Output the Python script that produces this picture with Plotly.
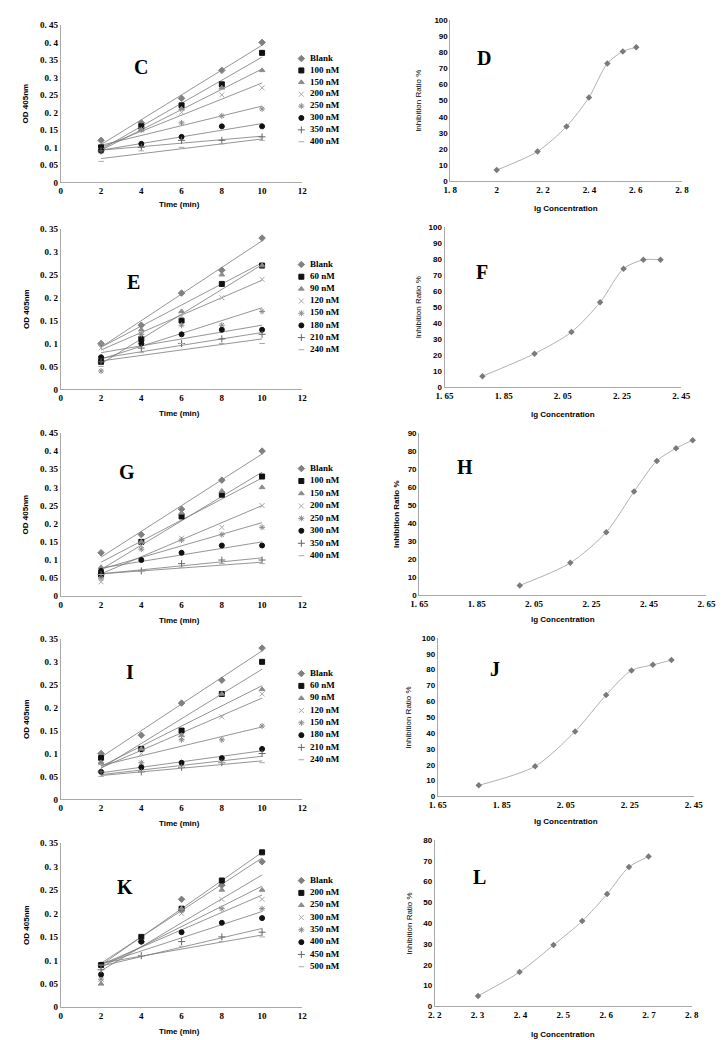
import numpy as np
import plotly.graph_objects as go

W, H = 726, 1040

# ---------------- data ----------------
TIME = [2, 4, 6, 8, 10]
TIME_TICKS = [0, 2, 4, 6, 8, 10, 12]

C_LABELS = ["Blank", "100 nM", "150 nM", "200 nM", "250 nM", "300 nM", "350 nM", "400 nM"]
C_OD = [
    [0.12, 0.17, 0.24, 0.32, 0.40],
    [0.10, 0.16, 0.22, 0.28, 0.37],
    [0.09, 0.15, 0.21, 0.27, 0.32],
    [0.09, 0.15, 0.20, 0.25, 0.27],
    [0.09, 0.15, 0.17, 0.19, 0.21],
    [0.09, 0.11, 0.13, 0.16, 0.16],
    [0.09, 0.10, 0.12, 0.12, 0.13],
    [0.06, 0.09, 0.10, 0.11, 0.12],
]

E_LABELS = ["Blank", "60 nM", "90 nM", "120 nM", "150 nM", "180 nM", "210 nM", "240 nM"]
E_OD = [
    [0.10, 0.14, 0.21, 0.26, 0.33],
    [0.06, 0.11, 0.15, 0.23, 0.27],
    [0.10, 0.13, 0.17, 0.25, 0.27],
    [0.09, 0.12, 0.16, 0.20, 0.24],
    [0.04, 0.12, 0.14, 0.14, 0.17],
    [0.07, 0.10, 0.12, 0.13, 0.13],
    [0.06, 0.09, 0.10, 0.11, 0.12],
    [0.05, 0.08, 0.10, 0.10, 0.10],
]

G_LABELS = ["Blank", "100 nM", "150 nM", "200 nM", "250 nM", "300 nM", "350 nM", "400 nM"]
G_OD = [
    [0.12, 0.17, 0.24, 0.32, 0.40],
    [0.06, 0.15, 0.22, 0.28, 0.33],
    [0.08, 0.15, 0.23, 0.29, 0.30],
    [0.04, 0.14, 0.16, 0.19, 0.25],
    [0.05, 0.13, 0.155, 0.17, 0.19],
    [0.07, 0.10, 0.12, 0.14, 0.14],
    [0.06, 0.07, 0.09, 0.10, 0.10],
    [0.06, 0.07, 0.08, 0.09, 0.09],
]

I_LABELS = ["Blank", "60 nM", "90 nM", "120 nM", "150 nM", "180 nM", "210 nM", "240 nM"]
I_OD = [
    [0.10, 0.14, 0.21, 0.26, 0.33],
    [0.09, 0.11, 0.15, 0.23, 0.30],
    [0.08, 0.11, 0.14, 0.23, 0.24],
    [0.08, 0.10, 0.135, 0.18, 0.23],
    [0.08, 0.08, 0.13, 0.13, 0.16],
    [0.06, 0.07, 0.08, 0.09, 0.11],
    [0.06, 0.06, 0.07, 0.08, 0.10],
    [0.05, 0.06, 0.07, 0.08, 0.08],
]

K_LABELS = ["Blank", "200 nM", "250 nM", "300 nM", "350 nM", "400 nM", "450 nM", "500 nM"]
K_OD = [
    [0.09, 0.14, 0.23, 0.26, 0.31],
    [0.09, 0.15, 0.21, 0.27, 0.33],
    [0.05, 0.14, 0.21, 0.25, 0.25],
    [0.06, 0.14, 0.20, 0.23, 0.23],
    [0.06, 0.14, 0.205, 0.21, 0.21],
    [0.07, 0.14, 0.16, 0.18, 0.19],
    [0.08, 0.11, 0.14, 0.15, 0.16],
    [0.09, 0.11, 0.13, 0.14, 0.15],
]

OD_TICKS_45 = [0, 0.05, 0.1, 0.15, 0.2, 0.25, 0.3, 0.35, 0.4, 0.45]
OD_TEXT_45 = ["0", "0. 05", "0. 1", "0. 15", "0. 2", "0. 25", "0. 3", "0. 35", "0. 4", "0. 45"]
OD_TICKS_35 = OD_TICKS_45[:8]
OD_TEXT_35 = OD_TEXT_45[:8]

D_CONC = [100, 150, 200, 250, 300, 350, 400]
D_INH = [7, 18.5, 34, 52, 73, 80.5, 83]
F_CONC = [60, 90, 120, 150, 180, 210, 240]
F_INH = [7, 21, 34.5, 53, 74, 79.5, 79.5]
H_CONC = [100, 150, 200, 250, 300, 350, 400]
H_INH = [5.5, 18, 35, 57.5, 74.5, 81.5, 86]
J_CONC = [60, 90, 120, 150, 180, 210, 240]
J_INH = [7, 19, 41, 64, 79.5, 83, 86]
L_CONC = [200, 250, 300, 350, 400, 450, 500]
L_INH = [5, 16.5, 29.5, 41, 54, 67, 72]

LG_TICKS_D = [1.8, 2.0, 2.2, 2.4, 2.6, 2.8]
LG_TEXT_D = ["1. 8", "2", "2. 2", "2. 4", "2. 6", "2. 8"]
LG_TICKS_F = [1.65, 1.85, 2.05, 2.25, 2.45]
LG_TEXT_F = ["1. 65", "1. 85", "2. 05", "2. 25", "2. 45"]
LG_TICKS_H = [1.65, 1.85, 2.05, 2.25, 2.45, 2.65]
LG_TEXT_H = ["1. 65", "1. 85", "2. 05", "2. 25", "2. 45", "2. 65"]
LG_TICKS_L = [2.2, 2.3, 2.4, 2.5, 2.6, 2.7, 2.8]
LG_TEXT_L = ["2. 2", "2. 3", "2. 4", "2. 5", "2. 6", "2. 7", "2. 8"]

# ---------------- styles ----------------
SYMBOLS = ["diamond", "square", "triangle-up", "x-thin-open", "asterisk-open",
           "circle", "cross-thin-open", "line-ew-open"]
COLORS = ["#808080", "#111111", "#8c8c8c", "#a8a8a8", "#8a8a8a", "#111111", "#666666", "#aaaaaa"]
SIZES = [5, 5, 5, 5, 5, 5, 5, 4]

SERIF = "Liberation Serif"
SANS = "Liberation Sans"
AXC = "#a8a8a8"

fig = go.Figure()
layout = dict(width=W, height=H, margin=dict(l=0, r=0, t=0, b=0),
              paper_bgcolor="white", plot_bgcolor="white", showlegend=False)
annotations = []


def px(p):
    return p / W


def py(p):
    return 1 - p / H


def ann(text, x, y, size, family, bold=False, angle=0, color="#000"):
    annotations.append(dict(text=text, x=px(x), y=py(y), xref="paper", yref="paper",
                            showarrow=False, textangle=angle,
                            font=dict(size=size, family=family, color=color,
                                      weight="bold" if bold else "normal"),
                            xanchor="center", yanchor="middle"))


LEFT = [
    dict(labels=C_LABELS, od=C_OD, top=12, bot=171, ymax=0.45, letter="C", lx=127, ly=55,
         leg=(46, 130), xt=193),
    dict(labels=E_LABELS, od=E_OD, top=218, bot=380, ymax=0.35, letter="E", lx=120, ly=272,
         leg=(254, 340), xt=404),
    dict(labels=G_LABELS, od=G_OD, top=424, bot=589, ymax=0.45, letter="G", lx=113, ly=463,
         leg=(460, 548), xt=613),
    dict(labels=I_LABELS, od=I_OD, top=632, bot=794, ymax=0.35, letter="I", lx=116, ly=665,
         leg=(667, 754), xt=818),
    dict(labels=K_LABELS, od=K_OD, top=838, bot=1004, ymax=0.35, letter="K", lx=111, ly=882,
         leg=(876, 963), xt=1028),
]

RIGHT = [
    dict(conc=D_CONC, inh=D_INH, x0=445, x1=683, xr=(1.8, 2.8), tv=LG_TICKS_D, tt=LG_TEXT_D,
         top=7, bot=170, ymax=100, letter="D", lx=480, ly=45, yt=412, xt=197),
    dict(conc=F_CONC, inh=F_INH, x0=439, x1=682, xr=(1.65, 2.45), tv=LG_TICKS_F, tt=LG_TEXT_F,
         top=216, bot=378, ymax=100, letter="F", lx=477, ly=262, yt=412, xt=405),
    dict(conc=H_CONC, inh=H_INH, x0=413, x1=708, xr=(1.65, 2.65), tv=LG_TICKS_H, tt=LG_TEXT_H,
         top=424, bot=588, ymax=90, letter="H", lx=460, ly=458, yt=389, xt=612),
    dict(conc=J_CONC, inh=J_INH, x0=432, x1=695, xr=(1.65, 2.45), tv=LG_TICKS_F, tt=LG_TEXT_F,
         top=631, bot=791, ymax=100, letter="J", lx=491, ly=662, yt=402, xt=816),
    dict(conc=L_CONC, inh=L_INH, x0=429, x1=693, xr=(2.2, 2.8), tv=LG_TICKS_L, tt=LG_TEXT_L,
         top=835, bot=1003, ymax=80, letter="L", lx=475, ly=872, yt=403, xt=1031),
]

tickfont_serif = dict(size=9, family=SERIF, color="#000", weight="bold")
tickfont_sans = dict(size=8, family=SANS, color="#000", weight="bold")

for k, p in enumerate(LEFT):
    n = 2 * k + 1
    xa, ya = f"x{n}", f"y{n}"
    layout[f"xaxis{n}"] = dict(domain=[px(45), px(293)], range=[0, 12], anchor=ya,
                               tickvals=TIME_TICKS, ticks="", showgrid=False, zeroline=False,
                               showline=True, linecolor=AXC, linewidth=1, tickfont=tickfont_serif,
                               fixedrange=True)
    tv = OD_TICKS_45 if p["ymax"] > 0.4 else OD_TICKS_35
    tt = OD_TEXT_45 if p["ymax"] > 0.4 else OD_TEXT_35
    layout[f"yaxis{n}"] = dict(domain=[py(p["bot"]), py(p["top"])], range=[0, p["ymax"]],
                               anchor=xa, tickvals=tv, ticktext=tt, ticks="", showgrid=False,
                               zeroline=False, showline=True, linecolor=AXC, linewidth=1,
                               tickfont=tickfont_serif, fixedrange=True)
    # linear trendlines (least-squares fit of each series)
    for i, vals in enumerate(p["od"]):
        a, b = np.polyfit(TIME, vals, 1)
        xs = [TIME[0], TIME[-1]]
        fig.add_trace(go.Scatter(x=xs, y=[a * xs[0] + b, a * xs[1] + b], mode="lines",
                                 line=dict(color="#7a7a7a", width=0.8), xaxis=xa, yaxis=ya,
                                 hoverinfo="skip"))
    for i, vals in enumerate(p["od"]):
        fig.add_trace(go.Scatter(x=TIME, y=vals, mode="markers", name=p["labels"][i],
                                 marker=dict(symbol=SYMBOLS[i], color=COLORS[i], size=SIZES[i],
                                             line=dict(color=COLORS[i], width=1)),
                                 xaxis=xa, yaxis=ya))
    # custom legend on a hidden axis
    m = 11 + k
    lxa, lya = f"x{m}", f"y{m}"
    layout[f"xaxis{m}"] = dict(domain=[px(292), px(352)], range=[0, 1], visible=False,
                               anchor=lya, fixedrange=True)
    layout[f"yaxis{m}"] = dict(domain=[py(p["leg"][1]), py(p["leg"][0])], range=[0, 7],
                               visible=False, anchor=lxa, fixedrange=True)
    nlab = len(p["labels"])
    for i in range(nlab):
        fig.add_trace(go.Scatter(x=[0], y=[nlab - 1 - i], mode="markers",
                                 marker=dict(symbol=SYMBOLS[i], color=COLORS[i], size=SIZES[i],
                                             line=dict(color=COLORS[i], width=1)),
                                 xaxis=lxa, yaxis=lya, cliponaxis=False, hoverinfo="skip"))
    fig.add_trace(go.Scatter(x=[0.15] * nlab, y=list(range(nlab - 1, -1, -1)), mode="text",
                             text=p["labels"], textposition="middle right",
                             textfont=dict(size=9, family=SERIF, color="#000", weight="bold"),
                             xaxis=lxa, yaxis=lya, cliponaxis=False, hoverinfo="skip"))
    ann(p["letter"], p["lx"], p["ly"], 20, SERIF, bold=True)
    ann("Time (min)", 167, p["xt"], 8, SANS, bold=True)
    ann("OD 405nm", 9, (p["top"] + p["bot"]) / 2, 8, SANS, bold=True, angle=-90)

for k, p in enumerate(RIGHT):
    n = 2 * k + 2
    xa, ya = f"x{n}", f"y{n}"
    layout[f"xaxis{n}"] = dict(domain=[px(p["x0"]), px(p["x1"])], range=list(p["xr"]),
                               anchor=ya, tickvals=p["tv"], ticktext=p["tt"], ticks="",
                               showgrid=False, zeroline=False, showline=True, linecolor=AXC,
                               linewidth=1, tickfont=tickfont_serif, fixedrange=True)
    layout[f"yaxis{n}"] = dict(domain=[py(p["bot"]), py(p["top"])], range=[0, p["ymax"]],
                               anchor=xa, dtick=10, ticks="", showgrid=False, zeroline=False,
                               showline=True, linecolor=AXC, linewidth=1, tickfont=tickfont_sans,
                               fixedrange=True)
    lg = np.log10(p["conc"])
    fig.add_trace(go.Scatter(x=lg, y=p["inh"], mode="lines+markers",
                             line=dict(color="#b0b0b0", width=1, shape="spline", smoothing=0.8),
                             marker=dict(symbol="diamond", color="#7a7a7a", size=5),
                             xaxis=xa, yaxis=ya))
    ann(p["letter"], p["lx"], p["ly"], 20, SERIF, bold=True)
    ann("lg Concentration", (p["x0"] + p["x1"]) / 2, p["xt"], 8, SANS, bold=True)
    ann("Inhibition Ratio %", p["yt"], (p["top"] + p["bot"]) / 2, 8, SANS,
        bold=(p["letter"] == "H"), angle=-90)

layout["annotations"] = annotations
fig.update_layout(**layout)
fig.write_html("out.html")
